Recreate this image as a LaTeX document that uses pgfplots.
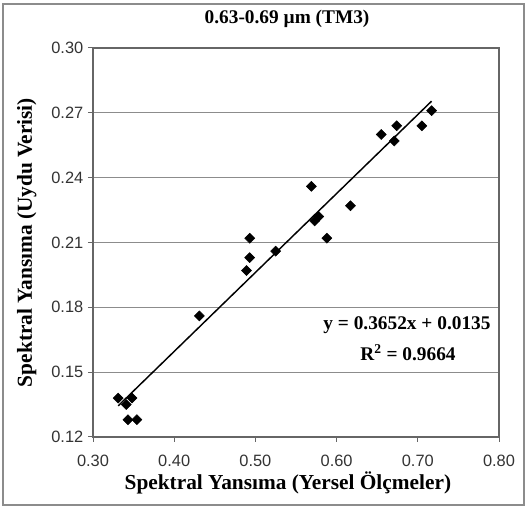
\documentclass[border=0pt]{standalone}
\usepackage{fontspec}
\setmainfont{Liberation Serif}
\newfontfamily\arialfont{Liberation Sans}
\usepackage{pgfplots}
\pgfplotsset{compat=1.18}
\begin{document}
\begin{tikzpicture}
\begin{axis}[
  at={(0,0)}, anchor=south west,
  scale only axis,
  width=304.5pt, height=291.75pt,
  xmin=0.3, xmax=0.8, ymin=0.12, ymax=0.30,
  xtick={0.3,0.4,0.5,0.6,0.7,0.8},
  ytick={0.12,0.15,0.18,0.21,0.24,0.27,0.30},
  /pgf/number format/assume math mode=true,
  xticklabel style={/pgf/number format/.cd,fixed,fixed zerofill,precision=2,/tikz/.cd,yshift=-6pt},
  yticklabel style={/pgf/number format/.cd,fixed,fixed zerofill,precision=2},
  tick label style={font=\arialfont\fontsize{12.3}{14}\selectfont, text=black!80},
  tick align=outside,
  major tick length=3.75pt,
  tick style={black!60, line width=0.75pt},
  xtick pos=bottom, ytick pos=left,
  ymajorgrids,
  grid style={black!45, line width=0.9pt},
  axis line style={black!60, line width=0.9pt},
  title={\bfseries 0.63-0.69 µm (TM3)},
  title style={font=\fontsize{14.5}{16}\selectfont, at={(axis description cs:0.478,1.054)}, anchor=center},
  xlabel={\bfseries Spektral Yansıma (Yersel Ölçmeler)},
  ylabel={\bfseries Spektral Yansıma (Uydu Verisi)},
  xlabel style={at={(axis description cs:0.48,-0.118)}, anchor=center},
  ylabel style={at={(axis description cs:-0.163,0.5)}, anchor=center},
  label style={font=\fontsize{16}{18}\selectfont},
  clip=false,
]
\addplot[only marks, mark=square*, mark size=2.65pt, mark options={rotate=45, fill=black, draw=black}] coordinates {
 (0.331,0.138) (0.348,0.138) (0.341,0.135) (0.343,0.128) (0.354,0.128)
 (0.431,0.176) (0.489,0.197) (0.493,0.203) (0.493,0.212) (0.525,0.206)
 (0.569,0.236) (0.573,0.220) (0.578,0.222) (0.588,0.212) (0.617,0.227)
 (0.655,0.260) (0.671,0.257) (0.674,0.264) (0.705,0.264) (0.717,0.271)
};
\addplot[black, line width=1.1pt] coordinates {(0.331,0.1344) (0.717,0.2754)};
\node[font=\bfseries\fontsize{14.5}{16}\selectfont] at (axis cs:0.6867,0.1719) {y = 0.3652x + 0.0135};
\node[font=\bfseries\fontsize{14.5}{16}\selectfont] at (axis cs:0.6880,0.1589) {R\textsuperscript{2} = 0.9664};
\end{axis}
\draw[black!45, line width=1pt] (-67.5pt,-51pt) rectangle (323.25pt,324.75pt);
\pgfresetboundingbox
\path[use as bounding box] (-69.75pt,-54pt) rectangle (325.5pt,327.75pt);
\end{tikzpicture}
\end{document}
